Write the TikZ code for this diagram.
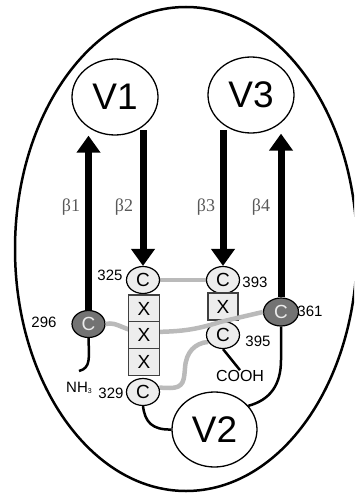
\documentclass[tikz,border=0pt]{standalone}
\usepackage{fontspec}
\setmainfont{Liberation Sans}
\newfontfamily\grk{Liberation Serif}
\usetikzlibrary{arrows.meta,shapes.geometric,backgrounds}
\newcommand\fsz[1]{\fontsize{#1}{#1}\selectfont}
\begin{document}
\begin{tikzpicture}[x=1pt,y=-1pt,
  loopnode/.style={ellipse,draw,line width=1.3pt,minimum width=86pt,minimum height=76pt,inner sep=0pt,font=\fsz{37}},
  cys/.style={ellipse,draw,line width=1.2pt,fill=black!7,minimum width=33pt,minimum height=27pt,inner sep=0pt,font=\fsz{19}},
  cysdark/.style={cys,fill=black!55,text=black!8},
  xbox/.style={rectangle,draw=black!75,line width=1.2pt,fill=black!7,minimum width=31pt,minimum height=26.5pt,inner sep=0pt,font=\fsz{19}},
  num/.style={font=\fsz{15},inner sep=0pt},
  beta/.style={font=\grk\fsz{18},text=black!65,inner sep=0pt},
  strand/.style={line width=7pt,-{Triangle[width=23pt,length=17pt]}},
  chain/.style={line width=2.5pt},
  bond/.style={line width=4.5pt,black!27}]
\useasboundingbox (0,0) rectangle (354,495);
\clip (0,0) rectangle (354,495);
\draw[line width=2.5pt] (186,249) ellipse [x radius=171,y radius=242];

% loops
\node[loopnode] (V1) at (115,97) {V1};
\node[loopnode] (V3) at (251,95) {V3};
\node[loopnode,minimum width=85pt,minimum height=75pt] (V2) at (214.5,429.5) {V2};

% right column and outer cysteines
\node[cysdark] (C296) at (88.5,324) {C};
\node[cysdark,minimum width=35pt,minimum height=28pt] (C361) at (281,312) {C};
\node[cys] (C393) at (223,280) {C};
\node[xbox,minimum width=30pt,minimum height=27pt] (X4) at (223,306.5) {X};
\node[cys] (C395) at (223,335) {C};

% bond 296-361 (over right column, under left column)
\draw[bond] (C296.east) .. controls (118,321) and (124,332) .. (145,332)
  .. controls (180,332) and (195,330) .. (220,322) -- (C361.west);

% left column
\node[cys] (C325) at (143,280) {C};
\node[xbox,minimum height=27pt] (X1) at (144,308.5) {X};
\node[xbox] (X2) at (144,335) {X};
\node[xbox] (X3) at (144,362) {X};
\node[cys] (C329) at (143,392) {C};

\begin{scope}[on background layer]
  \draw[bond] (C325.east) -- (C393.west);
  \draw[bond] (C329.15) -- (170,388) .. controls (184,388) and (184,380) .. (185,368)
    .. controls (186,352) and (195,343) .. (C395.205);
\end{scope}

% strands
\coordinate (b2) at (143,130);
\coordinate (b3) at (223,130);
\draw[strand] (C296.north) -- (C296.north |- V1.south);
\draw[strand] (b2) -- (C325.north);
\draw[strand] (b3) -- (C393.north);
\draw[strand] (C361.north) -- (C361.north |- V3.south);

% chain
\coordinate (nh) at (79,371);
\node[num,font=\fsz{16}] (COOH) at (240,376) {COOH};
\draw[chain] (C296.south) .. controls (89,358) and (91,368) .. (nh);
\draw[chain] (C395.south) -- (COOH.north);
\draw[chain] (C329.south) .. controls (145,422) and (152,430) .. (V2.west);
\draw[chain] (C361.south) -- (281,360) .. controls (281,385) and (270,400) .. (V2.35);

% labels
\node[beta] at (71,207) {β1};
\node[beta] at (124,207) {β2};
\node[beta] at (206,207) {β3};
\node[beta] at (261,207) {β4};
\node[num] at (110,275) {325};
\node[num] at (255,282) {393};
\node[num] at (310,311) {361};
\node[num] at (258,341) {395};
\node[num] at (44,322) {296};
\node[num] at (111,393) {329};
\node[num] at (79,388) {NH\raisebox{-0.5pt}{\fsz{7}3}};
\end{tikzpicture}
\end{document}
